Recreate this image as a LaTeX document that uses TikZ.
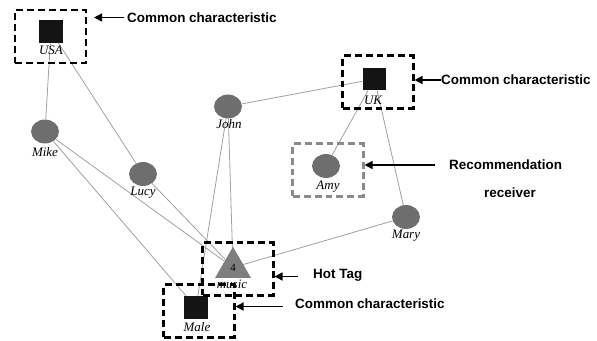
\documentclass[tikz,border=0pt]{standalone}
\usepackage{fontspec}
\setmainfont{Liberation Serif}
\setsansfont{Liberation Sans}
\usetikzlibrary{shapes.geometric,arrows.meta,backgrounds}

\definecolor{usergray}{HTML}{6E6E6E}
\definecolor{taggray}{HTML}{7E7E7E}
\definecolor{linkgray}{HTML}{A0A0A0}
\definecolor{framegray}{HTML}{8A8A8A}

\tikzset{
  user/.style={ellipse, fill=usergray, minimum width=28, minimum height=24, inner sep=0},
  attr/.style={rectangle, fill=black!92, minimum width=24, minimum height=23, inner sep=0},
  tagnode/.style={regular polygon, regular polygon sides=3, fill=taggray, minimum size=41.6, inner sep=0,
                  font=\fontsize{11}{11}\selectfont},
  lbl/.style={font=\fontsize{13}{13}\selectfont\itshape, inner sep=0, anchor=base},
  dashframe/.style={draw, line width=2.4, dash pattern=on 7 off 4, minimum width=71, minimum height=53, inner sep=0},
  note/.style={font=\sffamily\bfseries\fontsize{13.5}{16}\selectfont, inner sep=0, anchor=west},
  link/.style={draw=linkgray, line width=0.8},
  pointer/.style={-{Triangle[length=8,width=8]}, line width=1.6},
}

\begin{document}
\begin{tikzpicture}[x=1bp, y=-1bp]
  \useasboundingbox (0,0) rectangle (597,340);

  % attribute nodes
  \node[attr] (usa)  at (51,31.5) {};
  \node[attr] (uk)   at (374.5,79) {};
  \node[attr] (male) at (196,307.5) {};

  % users
  \node[user] (mike) at (45,131.5) {};
  \node[user] (john) at (228,106.5) {};
  \node[user] (lucy) at (143,174) {};
  \node[user] (amy)  at (326,166) {};
  \node[user] (mary) at (406,217) {};

  % tag node
  \node[tagnode] (music) at (233,267.5) {4};

  % node captions
  \node[lbl] (lusa)   at (51,54)    {USA};
  \node[lbl] (luk)    at (373,104)  {UK};
  \node[lbl] (lmale)  at (197,331)  {Male};
  \node[lbl] (lmike)  at (45,156)   {Mike};
  \node[lbl] (ljohn)  at (229,128)  {John};
  \node[lbl] (llucy)  at (143,195)  {Lucy};
  \node[lbl] (lamy)   at (328,189)  {Amy};
  \node[lbl] (lmary)  at (406,238)  {Mary};
  \node[lbl] (lmusic) at (232,288)  {music};

  % links between users, attributes and tags
  \begin{scope}[on background layer]
    \draw[link] (usa) -- (mike);
    \draw[link] (usa) -- (lucy);
    \draw[link] (lucy) -- (music);
    \draw[link] (mike) -- (music);
    \draw[link] (mike) -- (male);
    \draw[link] (john) -- (music.center);
    \draw[link] (john) -- (male);
    \draw[link] (john) -- (uk);
    \draw[link] (uk) -- (amy);
    \draw[link] (uk) -- (mary);
    \draw[link] (mary) -- (music.center);
  \end{scope}

  % highlight frames
  \node[dashframe] (fusa)   at (50.5,36.5) {};
  \node[dashframe] (fuk)    at (378,82) {};
  \node[dashframe, draw=framegray] (famy) at (328,170) {};
  \node[dashframe] (fmusic) at (238,269) {};
  \node[dashframe] (fmale)  at (199,311) {};

  % annotations
  \node[note] (nusa)   at (127,17.5) {Common characteristic};
  \node[note] (nuk)    at (441,80)   {Common characteristic};
  \node[note] (namy)   at (449,165)  {Recommendation};
  \node[note, anchor=center] (namy2) at (510,193) {receiver};
  \node[note] (nmusic) at (313,275)  {Hot Tag};
  \node[note] (nmale)  at (295,304)  {Common characteristic};

  \coordinate (tusa)   at (124,17.5);
  \coordinate (tamy)   at (435,165);
  \coordinate (tmusic) at (298,276.5);
  \coordinate (tmale)  at (283,306.5);

  \draw[pointer] (tusa) -- ([xshift=7]fusa.east |- tusa);
  \draw[pointer] (nuk.west) -- (fuk.east |- nuk.west);
  \draw[pointer] (tamy) -- (famy.east |- tamy);
  \draw[pointer] (tmusic) -- (fmusic.east |- tmusic);
  \draw[pointer] (tmale) -- (fmale.east |- tmale);
\end{tikzpicture}
\end{document}
